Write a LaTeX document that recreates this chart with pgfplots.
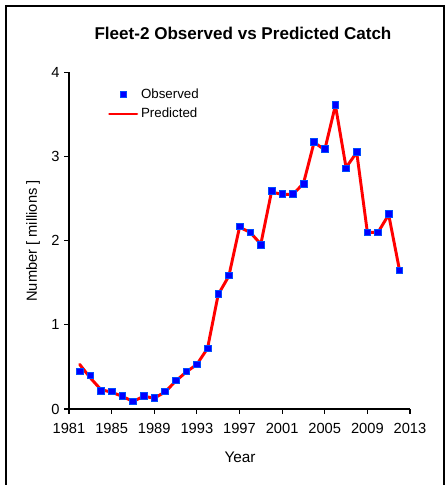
\documentclass[border=0pt]{standalone}
\usepackage{pgfplots}
\pgfplotsset{compat=1.18}
\usepackage{fontspec}
\setmainfont{Liberation Sans}

\pgfplotsset{
  obsleg/.style={legend image code/.code={\draw[mark repeat=2,mark phase=2,##1] plot coordinates {(0cm,0cm) (0.36cm,0cm) (0.72cm,0cm)};}},
  predleg/.style={legend image code/.code={\draw[##1] (0cm,0cm) -- (0.72cm,0cm);}},
}

% observed and predicted catch, millions
\pgfplotstableread{
year obs pred
1982 0.45 0.53
1983 0.40 0.37
1984 0.22 0.23
1985 0.21 0.20
1986 0.16 0.15
1987 0.09 0.09
1988 0.16 0.15
1989 0.13 0.13
1990 0.21 0.20
1991 0.34 0.33
1992 0.45 0.44
1993 0.53 0.53
1994 0.72 0.72
1995 1.37 1.36
1996 1.59 1.58
1997 2.17 2.16
1998 2.10 2.10
1999 1.95 1.96
2000 2.59 2.58
2001 2.56 2.55
2002 2.56 2.55
2003 2.68 2.68
2004 3.18 3.17
2005 3.09 3.08
2006 3.62 3.61
2007 2.86 2.87
2008 3.06 3.05
2009 2.10 2.10
2010 2.10 2.10
2011 2.32 2.31
2012 1.65 1.66
}\catch

\begin{document}
\begin{tikzpicture}[x=0.75pt,y=0.75pt]
\useasboundingbox (-69,-76) rectangle (379,409);
\draw[line width=0.9pt] (-63,-90) -- (-63,403) -- (375,403) -- (375,-90);
\begin{axis}[
  at={(0,0)}, anchor=south west,
  scale only axis,
  width=255.75pt, height=252.4pt,
  xmin=1981, xmax=2013, ymin=0, ymax=4,
  axis lines=left,
  axis line style={-, line width=0.8pt},
  xtick={1981,1985,...,2013},
  ytick={0,1,2,3,4},
  tick align=outside,
  major tick length=3.5pt,
  tick style={line width=0.8pt, black},
  tick label style={font=\fontsize{11}{13}\selectfont},
  /pgf/number format/assume math mode=true,
  x tick label style={/pgf/number format/1000 sep={}},
  xticklabel style={yshift=-4pt},
  clip=false,
  legend style={draw=none, fill=none, at={(0.11,0.965)}, anchor=north west,
    font=\fontsize{10}{11}\selectfont, row sep=2pt, inner sep=1pt},
  legend cell align=left,
]
\addplot[only marks, mark=square*, mark size=2.5pt, blue, mark options={draw=blue!70!cyan, fill=blue}, obsleg]
  table[x=year,y=obs] {\catch};
\addlegendentry{Observed}
\addplot[red, line width=2.2pt, line join=round, line cap=round, no marks, predleg]
  table[x=year,y=pred] {\catch};
\addlegendentry{Predicted}
\end{axis}
\node[font=\bfseries\fontsize{12.8}{14}\selectfont] at (174,376) {Fleet-2 Observed vs Predicted Catch};
\node[font=\fontsize{11.5}{13}\selectfont] at (171,-48) {Year};
\node[font=\fontsize{11}{13}\selectfont, rotate=90] at (-36,168) {Number [ millions ]};
\end{tikzpicture}
\end{document}
